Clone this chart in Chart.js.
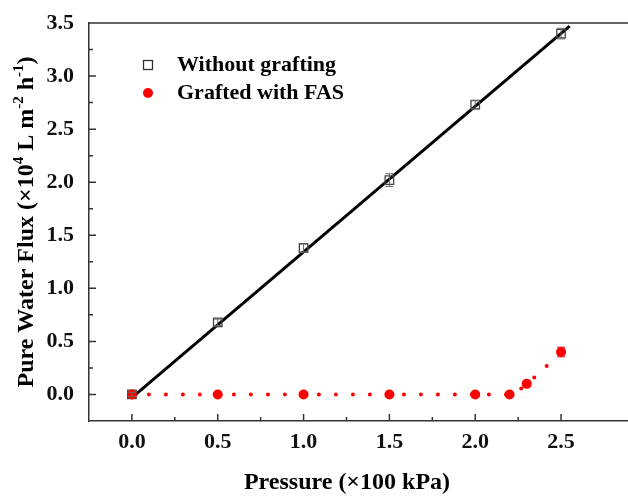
<!DOCTYPE html>
<html>
<head>
<meta charset="utf-8">
<script src="https://cdn.jsdelivr.net/npm/chart.js@4.4.1/dist/chart.umd.min.js"></script>
<style>
  html, body { margin: 0; padding: 0; background: #fff; }
  #wrap { width: 628px; height: 496px; }
</style>
</head>
<body>
<div id="wrap"><canvas id="myChart" width="628" height="496"></canvas></div>
<script>
// data
const pressure = [0, 0.5, 1.0, 1.5, 2.0, 2.5];
const fluxWithout = [0, 0.68, 1.38, 2.02, 2.73, 3.40];
const errWithout = [0.02, 0.03, 0.04, 0.06, 0.04, 0.05];

const pressureFAS = [0, 0.5, 1.0, 1.5, 2.0, 2.2, 2.3, 2.5];
const fluxFAS = [0, 0, 0, 0, 0, 0, 0.10, 0.40];
const errFAS = [0, 0, 0, 0, 0, 0, 0.01, 0.045];

// linear fit for the ungrafted membrane
const fitX = [0, 2.55];
const fitY = [-0.03, 3.47];

const xTicks = [0.0, 0.5, 1.0, 1.5, 2.0, 2.5];
const yTicks = [0.0, 0.5, 1.0, 1.5, 2.0, 2.5, 3.0, 3.5];
const xMinor = [0.25, 0.75, 1.25, 1.75, 2.25];
const yMinor = [0.25, 0.75, 1.25, 1.75, 2.25, 2.75, 3.25];

const SERIF = '"Liberation Serif", "Times New Roman", serif';
const AXIS = '#333';

const toPts = (xs, ys) => xs.map((x, i) => ({ x: x, y: ys[i] }));

// error bars, inward ticks, top frame, legend and axis titles
const decor = {
    id: 'decor',
    afterDatasetsDraw(chart) {
        const ctx = chart.ctx;
        const xs = chart.scales.x, ys = chart.scales.y;
        const bars = [
            { xv: pressure, yv: fluxWithout, ev: errWithout, color: '#666' },
            { xv: pressureFAS, yv: fluxFAS, ev: errFAS, color: 'red' }
        ];
        ctx.save();
        ctx.lineWidth = 1;
        bars.forEach(b => {
            ctx.strokeStyle = b.color;
            b.xv.forEach((xv, i) => {
                const e = b.ev[i];
                if (!e) return;
                const px = xs.getPixelForValue(xv);
                const top = ys.getPixelForValue(b.yv[i] + e);
                const bot = ys.getPixelForValue(b.yv[i] - e);
                ctx.beginPath();
                ctx.moveTo(px, top); ctx.lineTo(px, bot);
                ctx.moveTo(px - 4, top); ctx.lineTo(px + 4, top);
                ctx.moveTo(px - 4, bot); ctx.lineTo(px + 4, bot);
                ctx.stroke();
            });
        });
        ctx.restore();
    },
    afterDraw(chart) {
        const ctx = chart.ctx;
        const a = chart.chartArea;
        const xs = chart.scales.x, ys = chart.scales.y;
        ctx.save();
        ctx.strokeStyle = AXIS;
        ctx.lineWidth = 1.5;
        ctx.beginPath();
        ctx.moveTo(a.left, a.top); ctx.lineTo(a.right, a.top);
        xTicks.forEach(v => { const p = xs.getPixelForValue(v); ctx.moveTo(p, a.bottom); ctx.lineTo(p, a.bottom - 7); });
        xMinor.forEach(v => { const p = xs.getPixelForValue(v); ctx.moveTo(p, a.bottom); ctx.lineTo(p, a.bottom - 4); });
        yTicks.forEach(v => { const p = ys.getPixelForValue(v); ctx.moveTo(a.left, p); ctx.lineTo(a.left + 7, p); });
        yMinor.forEach(v => { const p = ys.getPixelForValue(v); ctx.moveTo(a.left, p); ctx.lineTo(a.left + 4, p); });
        ctx.stroke();

        // legend
        const ds = chart.data.datasets;
        ctx.font = 'bold 22px ' + SERIF;
        ctx.fillStyle = '#000';
        ctx.textBaseline = 'middle';
        ctx.textAlign = 'left';
        ctx.strokeStyle = '#333';
        ctx.lineWidth = 1.3;
        ctx.strokeRect(143.5, 60.5, 9, 9);
        ctx.fillText(ds[0].label, 177, 65);
        ctx.fillStyle = 'red';
        ctx.beginPath();
        ctx.arc(148, 93, 5, 0, Math.PI * 2);
        ctx.fill();
        ctx.fillStyle = '#000';
        ctx.fillText(ds[2].label, 177, 93);

        // axis titles
        ctx.font = 'bold 24px ' + SERIF;
        ctx.textAlign = 'center';
        ctx.fillText('Pressure (\u00d7100 kPa)', 347, 483);

        const parts = [
            ['Pure Water Flux (\u00d710', false], ['4', true], [' L m', false],
            ['-2', true], [' h', false], ['-1', true], [')', false]
        ];
        const big = 'bold 24px ' + SERIF, small = 'bold 15px ' + SERIF;
        let total = 0;
        parts.forEach(p => { ctx.font = p[1] ? small : big; total += ctx.measureText(p[0]).width; });
        ctx.translate(27, (a.top + a.bottom) / 2);
        ctx.rotate(-Math.PI / 2);
        ctx.textAlign = 'left';
        let cx = -total / 2;
        parts.forEach(p => {
            ctx.font = p[1] ? small : big;
            ctx.fillText(p[0], cx, p[1] ? -8 : 0);
            cx += ctx.measureText(p[0]).width;
        });
        ctx.restore();
    }
};

new Chart(document.getElementById('myChart'), {
    type: 'scatter',
    data: {
        datasets: [
            {
                label: 'Without grafting',
                data: toPts(pressure, fluxWithout),
                showLine: false,
                pointStyle: 'rect',
                pointRadius: 6,
                pointBorderWidth: 1.3,
                pointBorderColor: '#444',
                pointBackgroundColor: 'rgba(255,255,255,0)',
                order: 1
            },
            {
                label: 'fit',
                data: toPts(fitX, fitY),
                showLine: true,
                borderColor: '#000',
                borderWidth: 3,
                pointRadius: 0,
                order: 2
            },
            {
                label: 'Grafted with FAS',
                data: toPts(pressureFAS, fluxFAS),
                showLine: true,
                borderColor: 'red',
                borderWidth: 4,
                borderDash: [0, 17],
                borderCapStyle: 'round',
                cubicInterpolationMode: 'monotone',
                pointRadius: 5,
                pointBorderWidth: 0,
                pointBackgroundColor: 'red',
                order: 0
            }
        ]
    },
    options: {
        responsive: false,
        animation: false,
        layout: { autoPadding: false, padding: { top: 23, right: 0, left: 0, bottom: 0 } },
        plugins: {
            legend: { display: false },
            tooltip: { enabled: false }
        },
        scales: {
            x: {
                type: 'linear',
                min: -0.25,
                max: 2.89,
                afterBuildTicks: s => { s.ticks = xTicks.map(v => ({ value: v })); },
                afterFit: s => { s.height = 75; s.paddingLeft = 0; s.paddingRight = 0; },
                grid: { display: false, drawTicks: false },
                border: { display: true, color: AXIS, width: 1.5 },
                ticks: {
                    padding: 8,
                    color: '#111',
                    font: { family: SERIF, size: 22, weight: 'bold' },
                    callback: v => v.toFixed(1)
                }
            },
            y: {
                min: -0.25,
                max: 3.5,
                afterBuildTicks: s => { s.ticks = yTicks.map(v => ({ value: v })); },
                afterFit: s => { s.width = 89; s.paddingTop = 0; s.paddingBottom = 0; },
                grid: { display: false, drawTicks: false },
                border: { display: true, color: AXIS, width: 1.5 },
                ticks: {
                    padding: 15,
                    color: '#111',
                    font: { family: SERIF, size: 22, weight: 'bold' },
                    callback: v => v.toFixed(1)
                }
            }
        }
    },
    plugins: [decor]
});
</script>
</body>
</html>
